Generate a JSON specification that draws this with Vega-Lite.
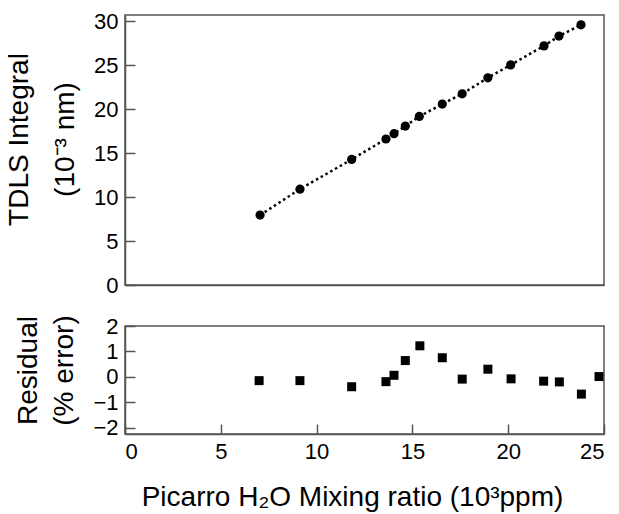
{
  "$schema": "https://vega.github.io/schema/vega-lite/v6.json",
  "padding": {"left": 4, "top": 9, "right": 2, "bottom": 0},
  "background": "white",
  "config": {
    "font": "Liberation Sans",
    "view": {"stroke": "#555", "strokeWidth": 1.5},
    "axis": {
      "domainColor": "#555",
      "domainWidth": 1.5,
      "tickColor": "#555",
      "tickWidth": 1.5,
      "grid": false,
      "labelFont": "Liberation Sans",
      "labelFontSize": 22,
      "labelColor": "black",
      "titleFont": "Liberation Sans",
      "titleFontSize": 28,
      "titleFontWeight": "normal",
      "titleColor": "black"
    }
  },
  "datasets": {
    "fit": [
      {"x": 7.05, "y": 7.95},
      {"x": 9.13, "y": 10.9},
      {"x": 11.83, "y": 14.28},
      {"x": 13.62, "y": 16.6},
      {"x": 14.04, "y": 17.2},
      {"x": 14.63, "y": 18.07},
      {"x": 15.36, "y": 19.17},
      {"x": 16.56, "y": 20.57},
      {"x": 17.6, "y": 21.74},
      {"x": 18.94, "y": 23.56},
      {"x": 20.13, "y": 25.03},
      {"x": 21.87, "y": 27.19},
      {"x": 22.65, "y": 28.3},
      {"x": 23.8, "y": 29.58}
    ],
    "resid": [
      {"x": 7.0, "r": -0.15},
      {"x": 9.13, "r": -0.15},
      {"x": 11.83, "r": -0.39},
      {"x": 13.62, "r": -0.19},
      {"x": 14.04, "r": 0.06},
      {"x": 14.63, "r": 0.64},
      {"x": 15.39, "r": 1.22},
      {"x": 16.56, "r": 0.75},
      {"x": 17.6, "r": -0.09},
      {"x": 18.94, "r": 0.3},
      {"x": 20.15, "r": -0.08},
      {"x": 21.85, "r": -0.17},
      {"x": 22.67, "r": -0.2},
      {"x": 23.82, "r": -0.68},
      {"x": 24.74, "r": 0.01}
    ]
  },
  "spacing": 17,
  "vconcat": [
    {
      "width": 479,
      "height": 270,
      "data": {"name": "fit"},
      "layer": [
        {
          "mark": {"type": "line", "color": "black", "strokeWidth": 2.5, "strokeDash": [2.5, 3]},
          "encoding": {
            "x": {"field": "x", "type": "quantitative"},
            "y": {"field": "y", "type": "quantitative"}
          }
        },
        {
          "mark": {"type": "point", "shape": "circle", "filled": true, "color": "black", "size": 85, "opacity": 1},
          "encoding": {
            "x": {"field": "x", "type": "quantitative", "scale": {"domain": [0, 25], "nice": false},
              "axis": {"labels": false, "ticks": false, "title": null}},
            "y": {"field": "y", "type": "quantitative", "scale": {"domain": [0, 30.7], "nice": false, "zero": true},
              "axis": {"values": [0, 5, 10, 15, 20, 25, 30], "tickSize": -10, "labelPadding": 17,
                "title": ["TDLS Integral", "(10⁻³ nm)"], "titleLineHeight": 46, "titlePadding": 14, "titleY": 124}}
          }
        }
      ]
    },
    {
      "width": 479,
      "height": 108,
      "data": {"name": "resid"},
      "mark": {"type": "point", "shape": "square", "filled": true, "color": "black", "size": 81, "opacity": 1},
      "encoding": {
        "x": {"field": "x", "type": "quantitative", "scale": {"domain": [0, 25], "nice": false},
          "axis": {"values": [0, 5, 10, 15, 20, 25], "tickSize": -10, "labelPadding": 17,
            "title": "Picarro H₂O Mixing ratio (10³ppm)", "titleBaseline": "alphabetic", "titleY": 71, "titleX": 227}},
        "y": {"field": "r", "type": "quantitative", "scale": {"domain": [-2.25, 2], "nice": false, "zero": false},
          "axis": {"values": [-2, -1, 0, 1, 2], "tickSize": -10, "labelPadding": 17,
            "title": ["Residual", "(% error)"], "titleLineHeight": 36, "titlePadding": 14, "titleY": 44}}
      }
    }
  ]
}
